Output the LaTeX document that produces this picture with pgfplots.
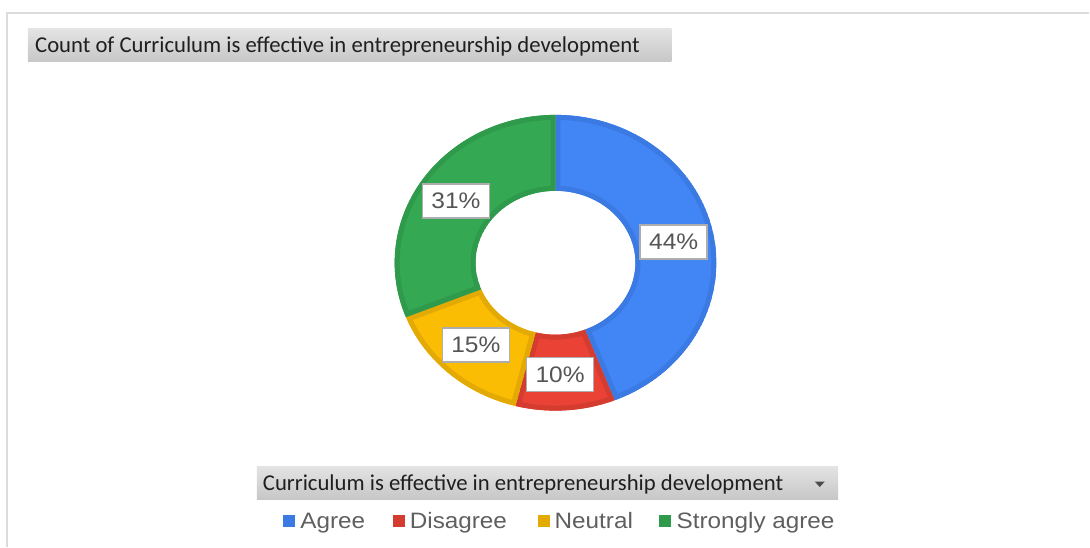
\documentclass[border=0pt]{standalone}
\usepackage{graphicx}
\usepackage{pgfplots}
\pgfplotsset{compat=1.18}
\usepackage{pgfplotstable}
\usepackage{fontspec}
\setmainfont{Liberation Sans}
\newfontfamily\titlefont{Carlito}

\definecolor{blueF}{HTML}{4285F4}
\definecolor{blueB}{HTML}{3B79E3}
\definecolor{redF}{HTML}{EA4335}
\definecolor{redB}{HTML}{D43C30}
\definecolor{yelF}{HTML}{FBBC04}
\definecolor{yelB}{HTML}{E3A904}
\definecolor{greF}{HTML}{34A853}
\definecolor{greB}{HTML}{2F9A4B}
\definecolor{frameC}{HTML}{DCDCDC}
\definecolor{lblC}{HTML}{555555}
\definecolor{legC}{HTML}{5F5F5F}

\pgfplotstableread{
label value
Agree 44
Disagree 10
Neutral 15
{Strongly agree} 31
}\donutdata

\pgfplotstablegetelem{0}{value}\of\donutdata \let\vA\pgfplotsretval
\pgfplotstablegetelem{1}{value}\of\donutdata \let\vB\pgfplotsretval
\pgfplotstablegetelem{2}{value}\of\donutdata \let\vC\pgfplotsretval
\pgfplotstablegetelem{3}{value}\of\donutdata \let\vD\pgfplotsretval

\newcommand\ring[2]{([shift={(#1:161bp and 148bp)}]c) arc[start angle=#1,end angle=#2,x radius=161bp,y radius=148bp] -- ([shift={(#2:80bp and 72bp)}]c) arc[start angle=#2,end angle=#1,x radius=80bp,y radius=72bp] -- cycle}
\newcommand\slice[4]{%
  \begin{scope}
    \clip \ring{#1}{#2};
    \fill[#3] \ring{#1}{#2};
    \draw[#4, line width=10bp] \ring{#1}{#2};
  \end{scope}}

\begin{document}
\begin{tikzpicture}
\pgfmathsetmacro\aA{90}
\pgfmathsetmacro\aB{\aA-3.6*\vA}
\pgfmathsetmacro\aC{\aB-3.6*\vB}
\pgfmathsetmacro\aD{\aC-3.6*\vC}
\pgfmathsetmacro\aE{\aD-3.6*\vD}
\pgfmathsetmacro\mA{(\aA+\aB)/2}
\pgfmathsetmacro\mB{(\aB+\aC)/2}
\pgfmathsetmacro\mC{(\aC+\aD)/2}
\pgfmathsetmacro\mD{(\aD+\aE)/2}
\begin{axis}[
  x=1bp, y=1bp,
  xmin=0, xmax=1090, ymin=0, ymax=547,
  y dir=reverse,
  hide axis, clip=false,
]
\path (axis cs:0,0) rectangle (axis cs:1090,547);
% outer frame
\draw[frameC, line width=2bp] (axis cs:1090,13) -- (axis cs:7,13) -- (axis cs:7,547);
% title box
\shade[top color=black!11, bottom color=black!22] (axis cs:28,29) rectangle (axis cs:672,62);
\node[anchor=base west, inner sep=0pt, text=black!88, font=\titlefont\fontsize{22.7bp}{26bp}\selectfont] at (axis cs:35,53) {Count of Curriculum is effective in entrepreneurship development};
% donut
\coordinate (c) at (axis cs:556,263);
\slice{\aA}{\aB}{blueF}{blueB}
\slice{\aB}{\aC}{redF}{redB}
\slice{\aC}{\aD}{yelF}{yelB}
\slice{\aD}{\aE}{greF}{greB}
% data labels
\tikzset{lbl/.style={fill=white, draw=black!32, line width=1.6bp, minimum width=67bp, minimum height=34bp, inner sep=0pt, text=lblC, font=\fontsize{22.5bp}{26bp}\selectfont}}
\node[lbl] at ([shift={(\mA:120.5bp and 110bp)}]c) {\scalebox{1.09}[1]{\vA\%}};
\node[lbl] at ([shift={(\mB:120.5bp and 112bp)}]c) [xshift=-3bp] {\scalebox{1.09}[1]{\vB\%}};
\node[lbl] at ([shift={(\mC:120.5bp and 110bp)}]c) {\scalebox{1.09}[1]{\vC\%}};
\node[lbl] at ([shift={(\mD:120.5bp and 110bp)}]c) {\scalebox{1.09}[1]{\vD\%}};
% legend header
\shade[top color=black!11, bottom color=black!22] (axis cs:257,467) rectangle (axis cs:839,500);
\node[anchor=base west, inner sep=0pt, text=black!88, font=\titlefont\fontsize{22.7bp}{26bp}\selectfont] at (axis cs:263,491) {Curriculum is effective in entrepreneurship development};
\fill[black!70] (axis cs:815.5,482) -- (axis cs:825.5,482) -- (axis cs:820.5,487.5) -- cycle;
% legend entries
\tikzset{leg/.style={anchor=base west, inner sep=0pt, text=legC, font=\fontsize{22.3bp}{26bp}\selectfont}}
\fill[blueB] (axis cs:283,515) rectangle (axis cs:295,527);
\node[leg] at (axis cs:300.5,529) {\scalebox{1.09}[1]{Agree}};
\fill[redB] (axis cs:393,515) rectangle (axis cs:405,527);
\node[leg] at (axis cs:410,529) {\scalebox{1.09}[1]{Disagree}};
\fill[yelB] (axis cs:538,515) rectangle (axis cs:550,527);
\node[leg] at (axis cs:555,529) {\scalebox{1.09}[1]{Neutral}};
\fill[greB] (axis cs:660,515) rectangle (axis cs:672,527);
\node[leg] at (axis cs:677,529) {\scalebox{1.09}[1]{Strongly agree}};
\end{axis}
\end{tikzpicture}
\end{document}
